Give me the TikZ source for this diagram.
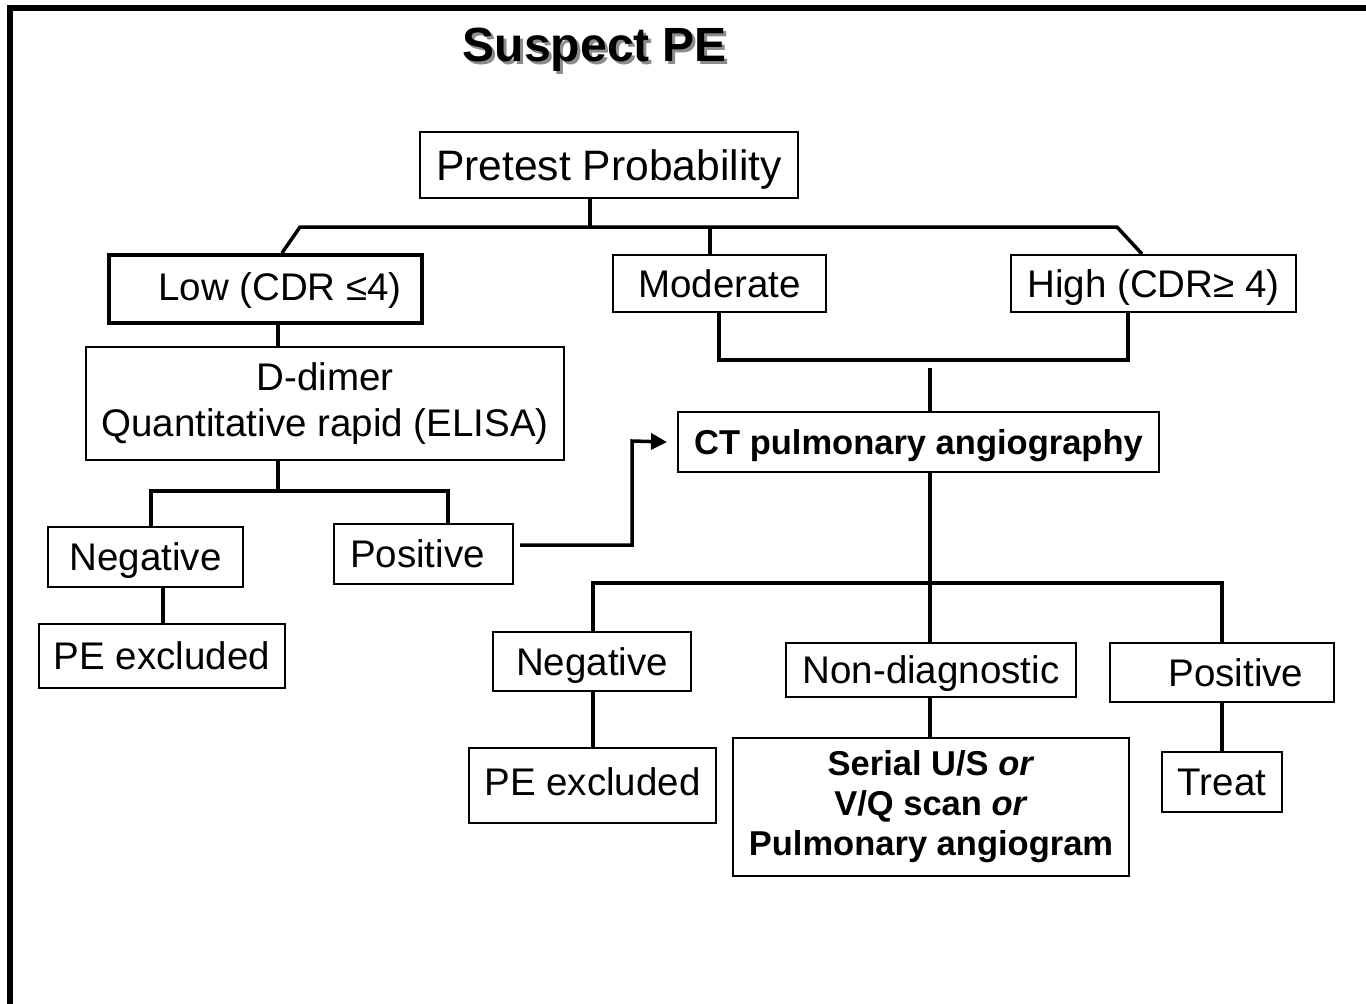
\documentclass[tikz,border=0pt]{standalone}
\usepackage{fontspec}
\setmainfont{Liberation Sans}
\usetikzlibrary{arrows.meta}
\begin{document}
\begin{tikzpicture}[x=1pt,y=-1pt,
  box/.style 2 args={draw=black, line width=2pt, minimum width=#1, minimum height=#2,
    inner sep=0pt, align=center, font=\fontsize{38.5}{46}\selectfont},
  oneline/.style={text height=35.4pt, text depth=8.1pt},
  boldbox/.style 2 args={box={#1}{#2}, font=\fontsize{34.5}{40}\selectfont\bfseries},
  conn/.style={line width=3.5pt, line cap=butt},
  frame/.style={line width=6pt}]
\useasboundingbox (0,0) rectangle (1366,1004);
% frame
\draw[frame] (10,1004) -- (10,8) -- (1366,8);
% title with shadow
\node[font=\fontsize{48}{56}\selectfont\bfseries] (title) at (595,51)
  {\rlap{\hspace*{3pt}\raisebox{-3pt}{\textcolor{black!45}{Suspect PE}}}Suspect PE};

% nodes
\node[box={378}{66}, text height=39.2pt, text depth=9pt, font=\fontsize{42.6}{50}\selectfont] (pre) at (609,165) {Pretest Probability};
\node[box={313}{68}, text height=31.4pt, text depth=8.1pt, line width=4pt] (low) at (265.5,289) {\hspace*{29pt}Low (CDR ≤4)};
\node[box={213}{57}, oneline] (mod) at (719.5,283.5) {Moderate};
\node[box={285}{57}, oneline] (high) at (1153.5,283.5) {High (CDR≥ 4)};
\node[box={478}{113}] (dd) at (325,403.5) {D-dimer\\Quantitative rapid (ELISA)};
\node[boldbox={481}{60}, text height=31.7pt, text depth=7.2pt] (ct) at (918.5,442) {CT pulmonary angiography};
\node[box={195}{60}, oneline] (negL) at (145.5,557) {Negative};
\node[box={179}{60}, oneline] (posL) at (423.5,554) {Positive\hspace*{12pt}};
\node[box={246}{64}, oneline] (peL) at (162,656) {PE excluded};
\node[box={198}{59}, oneline] (negR) at (592,661.5) {Negative};
\node[box={290}{54}, oneline] (nond) at (931,670) {Non-diagnostic};
\node[box={224}{59}, oneline] (posR) at (1222,672.5) {\hspace*{28pt}Positive};
\node[box={247}{75}, text height=27.7pt, text depth=8.1pt] (peR) at (592.5,785.5) {PE excluded};
\node[boldbox={396}{138}] (serial) at (931,807) {Serial U/S \textit{or}\\V/Q scan \textit{or}\\Pulmonary angiogram};
\node[box={120}{60}, oneline] (treat) at (1222,782) {Treat};

% top tree
\coordinate (j1) at (590,227);
\coordinate (jl) at (300,227);
\coordinate (jr) at (1117,227);
\draw[conn] (pre.south -| j1) -- (j1);
\draw[conn, line join=miter] (low.north -| 282,0) -- (jl) -- (jr) -- (high.north -| 1142,0);
\draw[conn] (mod.north -| 710,0) -- (710,227);

% moderate/high to CT
\draw[conn] (mod.south -| 719,0) -- (719,360) -- (1128,360) -- (high.south -| 1128,0);
\draw[conn] (930,368) -- (ct.north -| 930,0);

% D-dimer subtree
\draw[conn] (low.south -| 278,0) -- (dd.north -| 278,0);
\draw[conn] (dd.south -| 278,0) -- (278,491);
\draw[conn] (negL.north -| 151,0) -- (151,491) -- (448,491) -- (posL.north -| 448,0);
\draw[conn] (negL.south -| 163,0) -- (peL.north -| 163,0);

% arrow positive -> CT
\draw[conn, line join=miter, -{Triangle[length=16pt,width=16pt]}]
  ([xshift=6pt,yshift=9pt]posL.east) -- (632,545) -- (632,441) -- ([xshift=-10pt]ct.west);

% CT subtree
\draw[conn] (ct.south -| 930,0) -- (nond.north -| 930,0);
\draw[conn] (negR.north -| 593,0) -- (593,583) -- (1222,583) -- (posR.north -| 1222,0);
\draw[conn] (negR.south -| 593,0) -- (peR.north -| 593,0);
\draw[conn] (nond.south -| 930,0) -- (serial.north -| 930,0);
\draw[conn] (posR.south -| 1222,0) -- (treat.north -| 1222,0);
\end{tikzpicture}
\end{document}
